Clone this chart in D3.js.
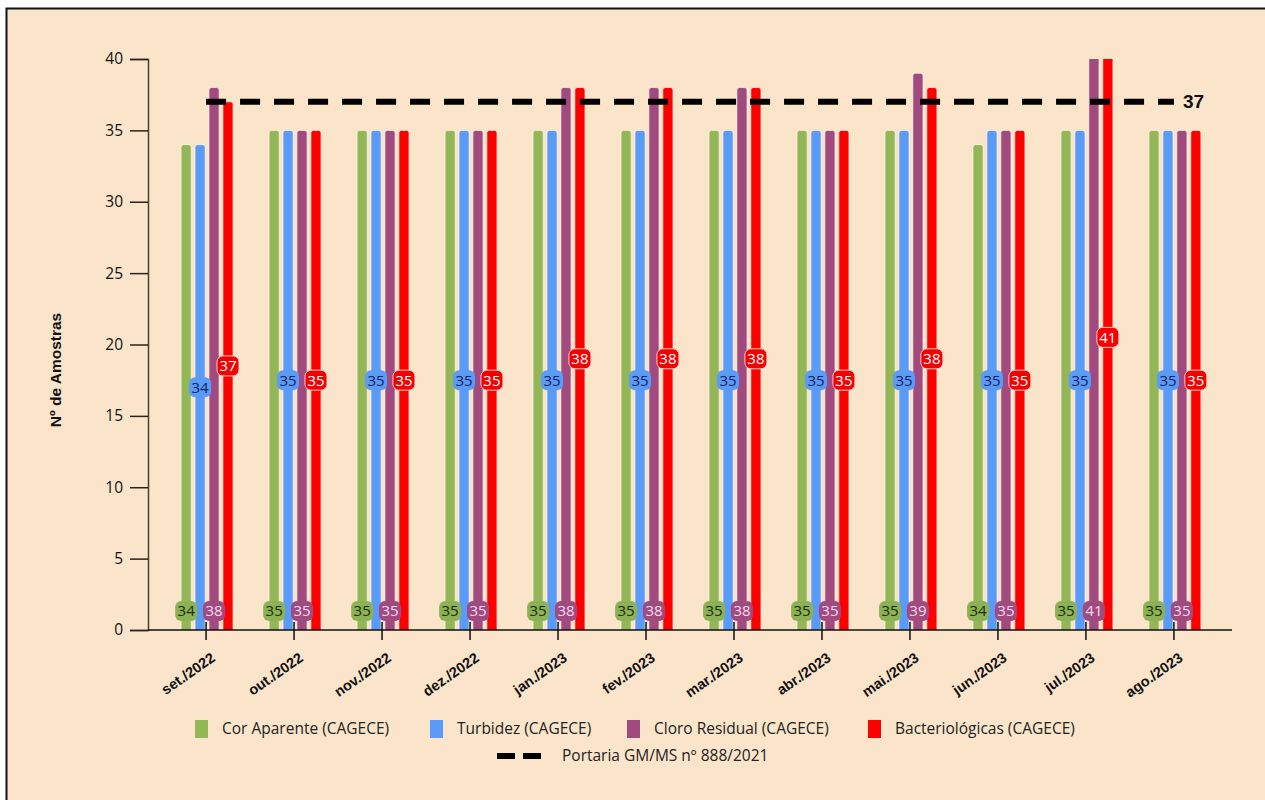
<!DOCTYPE html>
<meta charset="utf-8">
<script src="https://cdn.jsdelivr.net/npm/d3@7"></script>
<style>
	body{margin:0;background:#fff;}
	svg{display:block;}
	.lbl{font-family:"Open Sans",sans-serif;font-size:15px;}
</style>
<div id="chart"></div>
<script>
var months = ["set./2022","out./2022","nov./2022","dez./2022","jan./2023","fev./2023","mar./2023","abr./2023","mai./2023","jun./2023","jul./2023","ago./2023"]
var series = ["Cor Aparente (CAGECE)","Turbidez (CAGECE)","Cloro Residual (CAGECE)","Bacteriológicas (CAGECE)"]
var corAparente = [34,35,35,35,35,35,35,35,35,34,35,35]
var turbidez = [34,35,35,35,35,35,35,35,35,35,35,35]
var cloroResidual = [38,35,35,35,38,38,38,35,39,35,41,35]
var bacteriologicas = [37,35,35,35,38,38,38,35,38,35,41,35]
var portaria = 37
var portariaLabel = "Portaria GM/MS nº 888/2021"
var yTicks = [0,5,10,15,20,25,30,35,40]

var values = [corAparente,turbidez,cloroResidual,bacteriologicas]
var colors = ["#93b656","#5b9bf8","#a04a80","#ff0000"]
// label style per series: box fill, text colour, where it sits
var labelFill = ["#8cb254","#5b9bf8","#a04a80","#f40000"]
var labelText = ["#1c2b0c","#0c2461","#f8dcef","#ffffff"]
var labelPos = ["base","mid","base","mid"]

var width = 1265, height = 800

var svg = d3.select("#chart").append("svg")
	.attr("width",width)
	.attr("height",height)

// frame
svg.append("rect").attr("x",6.5).attr("y",8.5).attr("width",1270).attr("height",800)
	.attr("fill","#fae5cb").attr("stroke","#111").attr("stroke-width",2)

var yScale = d3.scaleLinear().domain([0,40]).range([630,59])
var xScale = d3.scaleBand().domain(months).range([148,1232]).paddingInner(0).paddingOuter(0.16)
var x1 = d3.scaleBand().domain(series).range([-25,27]).paddingInner(0.27)
function cx(m){return xScale(m)+xScale.bandwidth()/2}

// y axis
var yAxis = d3.axisLeft(yScale).tickValues(yTicks).tickSize(18).tickPadding(7)
var gy = svg.append("g").attr("transform","translate(148,0)").call(yAxis)
gy.select(".domain").attr("stroke","#4a3f35").attr("stroke-width",1.5)
gy.selectAll(".tick line").attr("stroke","#2a221c").attr("stroke-width",1.5)
gy.selectAll(".tick text").attr("font-family","Open Sans, sans-serif").attr("font-size","15.5px").attr("fill","#111")

svg.append("text")
	.attr("transform","translate(61,370) rotate(-90)")
	.attr("text-anchor","middle")
	.attr("font-family","Liberation Sans, Arial, sans-serif")
	.attr("font-weight","bold").attr("font-size","15.5px").attr("fill","#111")
	.text("Nº de Amostras")

// bars
var clip = svg.append("clipPath").attr("id","plot").append("rect")
	.attr("x",140).attr("y",yScale(40)).attr("width",1100).attr("height",yScale(0)-yScale(40))

var groups = svg.append("g").attr("clip-path","url(#plot)")
series.forEach(function(s,i){
	groups.selectAll(".bar"+i)
		.data(months)
		.enter()
		.append("rect")
		.attr("x",function(m){return cx(m)+x1(s)})
		.attr("width",x1.bandwidth())
		.attr("y",function(m,j){return yScale(values[i][j])})
		.attr("height",function(m,j){return yScale(0)-yScale(values[i][j])+4})
		.attr("rx",2.5)
		.attr("fill",colors[i])
		.attr("stroke","rgba(255,248,235,0.7)")
		.attr("stroke-width",1)
})

// x axis
svg.append("line").attr("x1",148).attr("x2",1232).attr("y1",630).attr("y2",630)
	.attr("stroke","#111").attr("stroke-width",1.5)
svg.append("g").selectAll("line").data(months).enter().append("line")
	.attr("x1",cx).attr("x2",cx).attr("y1",622).attr("y2",640)
	.attr("stroke","#111").attr("stroke-width",1.5)
svg.append("g").selectAll("text").data(months).enter().append("text")
	.attr("transform",function(m){return "translate("+(cx(m)+10)+",660) rotate(-35)"})
	.attr("text-anchor","end")
	.attr("font-family","Liberation Sans, Arial, sans-serif")
	.attr("font-weight","bold").attr("font-size","14.5px").attr("fill","#111")
	.text(function(m){return m})

// reference line
svg.append("line")
	.attr("x1",cx(months[0])).attr("x2",cx(months[months.length-1]))
	.attr("y1",yScale(portaria)).attr("y2",yScale(portaria))
	.attr("stroke","#000").attr("stroke-width",6).attr("stroke-dasharray","20,14")
svg.append("text")
	.attr("x",cx(months[months.length-1])+9).attr("y",yScale(portaria)).attr("dy","0.35em")
	.attr("font-family","Liberation Sans, Arial, sans-serif")
	.attr("font-weight","bold").attr("font-size","19px").attr("fill","#111")
	.text(portaria)

// value labels
series.forEach(function(s,i){
	months.forEach(function(m,j){
		var v = values[i][j]
		var x = cx(m)+x1(s)+x1.bandwidth()/2
		var y = labelPos[i]=="base" ? yScale(0)-19 : yScale(v/2)
		var g = svg.append("g").attr("transform","translate("+x+","+y+")")
		var r = g.append("rect").attr("x",-11).attr("y",-10).attr("width",22).attr("height",20).attr("rx",6)
			.attr("fill",labelFill[i])
		if(i==3){r.attr("stroke","#ffc9c9").attr("stroke-width",1)}
		g.append("text").attr("class","lbl").attr("text-anchor","middle").attr("dy","0.36em")
			.attr("fill",labelText[i]).text(v)
	})
})

// legend
var legX = [195,430,627,868]
var leg = svg.append("g")
series.forEach(function(s,i){
	leg.append("rect").attr("x",legX[i]).attr("y",720).attr("width",13).attr("height",18).attr("fill",colors[i])
	leg.append("text").attr("x",legX[i]+27).attr("y",729).attr("dy","0.35em")
		.attr("font-family","Open Sans, sans-serif").attr("font-size","15.5px").attr("fill","#222")
		.text(s)
})
leg.append("line").attr("x1",497).attr("x2",541).attr("y1",756).attr("y2",756)
	.attr("stroke","#000").attr("stroke-width",6).attr("stroke-dasharray","18,8")
leg.append("text").attr("x",562).attr("y",756).attr("dy","0.35em")
	.attr("font-family","Open Sans, sans-serif").attr("font-size","15.5px").attr("fill","#222")
	.text(portariaLabel)
</script>
